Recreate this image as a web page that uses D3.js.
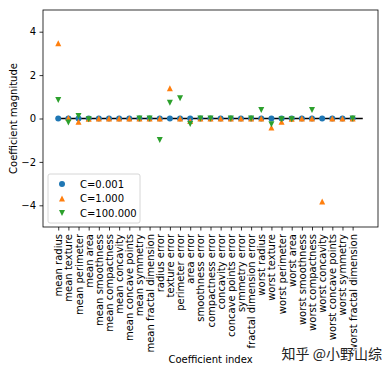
<!DOCTYPE html>
<html>
<head>
<meta charset="utf-8">
<script src="https://cdn.jsdelivr.net/npm/d3@7"></script>
<style>
  body { margin: 0; background: #fff; }
  svg { font-family: "DejaVu Sans", sans-serif; }
</style>
</head>
<body>
<div id="chart"></div>
<script>
const WIDTH = 388;
const HEIGHT = 374;

// --------------- Data ---------------
const features = [
  "mean radius", "mean texture", "mean perimeter", "mean area",
  "mean smoothness", "mean compactness", "mean concavity",
  "mean concave points", "mean symmetry", "mean fractal dimension",
  "radius error", "texture error", "perimeter error", "area error",
  "smoothness error", "compactness error", "concavity error",
  "concave points error", "symmetry error", "fractal dimension error",
  "worst radius", "worst texture", "worst perimeter", "worst area",
  "worst smoothness", "worst compactness", "worst concavity",
  "worst concave points", "worst symmetry", "worst fractal dimension"
];

const c001 = [
  0, 0, 0, 0, 0, 0, 0, 0, 0, 0,
  0, 0, 0, 0, 0, 0, 0, 0, 0, 0,
  0, 0, 0, 0, 0, 0, 0, 0, 0, 0
];

const c1 = [
  3.47, 0.02, -0.15, -0.01, 0, 0, 0, 0, 0, 0,
  0, 1.39, 0, -0.12, 0, 0, 0, 0, 0, 0,
  0, -0.42, -0.15, -0.01, 0, 0, -3.83, 0, 0, 0
];

// several of these fall outside the plotted range (-5..5) and are clipped
const c100 = [
  0.85, -0.19, 0.11, -0.03, -9.0, 11.0, -8.0, -14.0, 0, 0,
  -0.99, 0.73, 0.93, -0.25, 0, 0, 18.0, 0, 6.5, 0,
  0.39, -0.27, -0.03, -0.04, -8.5, 0.39, -20.0, -25.0, -11.0, 0
];

const series = [
  { label: "C=0.001", values: c001, symbol: "circle", color: "#1f77b4" },
  { label: "C=1.000", values: c1, symbol: "up", color: "#ff7f0e" },
  { label: "C=100.000", values: c100, symbol: "down", color: "#2ca02c" }
];

const yTicks = [-4, -2, 0, 2, 4];

// --------------- Layout ---------------
const margin = { top: 10, right: 10, bottom: 147, left: 43 };
const w = WIDTH - margin.left - margin.right;
const h = HEIGHT - margin.top - margin.bottom;

const svg = d3.select("#chart").append("svg")
  .attr("width", WIDTH)
  .attr("height", HEIGHT);

const g = svg.append("g")
  .attr("transform", "translate(" + margin.left + "," + margin.top + ")");

const x = d3.scaleLinear().domain([-1.5, 31.5]).range([0, w]);
const y = d3.scaleLinear().domain([-5, 5]).range([h, 0]);

svg.append("defs").append("clipPath").attr("id", "clip")
  .append("rect").attr("width", w).attr("height", h);

// axes
const yAxis = d3.axisLeft(y).tickValues(yTicks).tickSize(3.5).tickPadding(3.5)
  .tickFormat(d => d < 0 ? "\u2212" + Math.abs(d) : d);
const gy = g.append("g").call(yAxis);
gy.select(".domain").remove();
gy.selectAll("line").attr("stroke", "#000").attr("stroke-width", 0.8);
gy.selectAll("text").attr("font-size", 10).attr("fill", "#000")
  .attr("font-family", "DejaVu Sans");

const xAxis = d3.axisBottom(x).tickValues(d3.range(features.length))
  .tickSize(3.5).tickFormat(i => features[i]);
const gx = g.append("g").attr("transform", "translate(0," + h + ")").call(xAxis);
gx.select(".domain").remove();
gx.selectAll("line").attr("stroke", "#000").attr("stroke-width", 0.8);
gx.selectAll("text")
  .attr("font-size", 10).attr("fill", "#000").attr("font-family", "DejaVu Sans")
  .attr("text-anchor", "end")
  .attr("transform", "rotate(-90)")
  .attr("x", -7)
  .attr("y", 0)
  .attr("dy", "0.35em");

// zero line
g.append("line")
  .attr("x1", x(0)).attr("x2", x(30))
  .attr("y1", y(0)).attr("y2", y(0))
  .attr("stroke", "#000").attr("stroke-width", 1.5);

// markers
function markerPath(symbol, s) {
  if (symbol === "up") return "M0," + (-s) + "L" + s + "," + s + "L" + (-s) + "," + s + "Z";
  if (symbol === "down") return "M0," + s + "L" + s + "," + (-s) + "L" + (-s) + "," + (-s) + "Z";
  return null;
}

const plot = g.append("g").attr("clip-path", "url(#clip)");

series.forEach(function (sr) {
  const sel = plot.append("g").selectAll(".m")
    .data(sr.values)
    .enter();
  if (sr.symbol === "circle") {
    sel.append("circle")
      .attr("cx", (d, i) => x(i))
      .attr("cy", d => y(d))
      .attr("r", 3)
      .attr("fill", sr.color);
  } else {
    sel.append("path")
      .attr("d", markerPath(sr.symbol, 3))
      .attr("transform", (d, i) => "translate(" + x(i) + "," + y(d) + ")")
      .attr("fill", sr.color);
  }
});

// frame
g.append("rect")
  .attr("width", w).attr("height", h)
  .attr("fill", "none").attr("stroke", "#000").attr("stroke-width", 0.8);

// legend
const legend = g.append("g").attr("transform", "translate(5," + (h - 53) + ")");
legend.append("rect")
  .attr("width", 92).attr("height", 49).attr("rx", 2)
  .attr("fill", "#fff").attr("fill-opacity", 0.8)
  .attr("stroke", "#ccc").attr("stroke-width", 0.8);

series.forEach(function (sr, i) {
  const row = legend.append("g").attr("transform", "translate(14," + (10 + i * 14.5) + ")");
  if (sr.symbol === "circle") {
    row.append("circle").attr("r", 3).attr("fill", sr.color);
  } else {
    row.append("path").attr("d", markerPath(sr.symbol, 3)).attr("fill", sr.color);
  }
  row.append("text")
    .attr("x", 18).attr("dy", "0.35em")
    .attr("font-size", 10).attr("fill", "#000")
    .text(sr.label);
});

// axis titles
svg.append("text")
  .attr("transform", "translate(13," + (margin.top + h / 2) + ") rotate(-90)")
  .attr("text-anchor", "middle")
  .attr("dy", "0.35em")
  .attr("font-size", 10)
  .text("Coefficient magnitude");

svg.append("text")
  .attr("x", margin.left + w / 2)
  .attr("y", 363)
  .attr("text-anchor", "middle")
  .attr("font-size", 10)
  .text("Coefficient index");

// watermark
svg.append("text")
  .attr("x", 382)
  .attr("y", 359)
  .attr("text-anchor", "end")
  .attr("font-family", "Noto Sans CJK SC")
  .attr("font-size", 14)
  .attr("fill", "#222")
  .attr("stroke", "#fff")
  .attr("stroke-width", 2)
  .attr("paint-order", "stroke")
  .text("知乎 @小野山综");
</script>
</body>
</html>
